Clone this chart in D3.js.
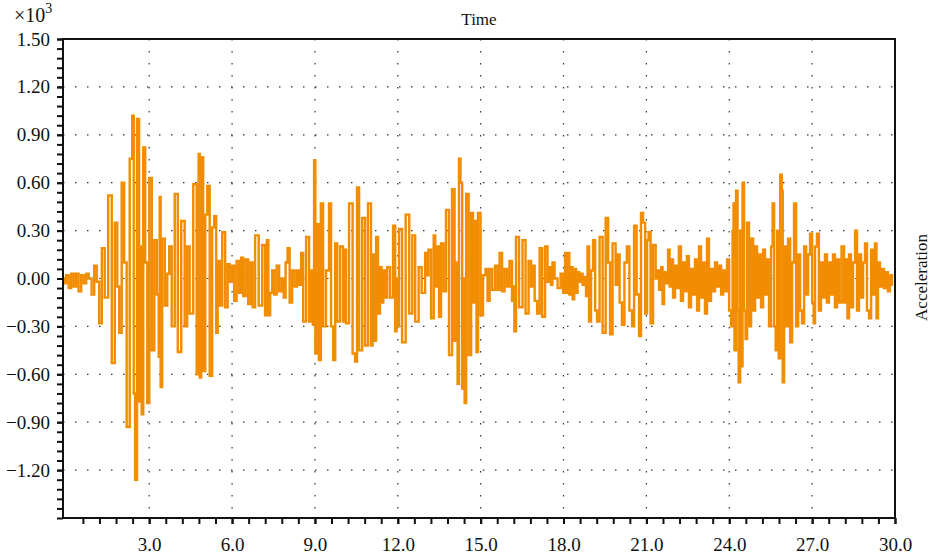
<!DOCTYPE html>
<html>
<head>
<meta charset="utf-8">
<script src="https://cdn.jsdelivr.net/npm/d3@7"></script>
<style>
  body { margin: 0; background: #fff; }
  text { font-family: "Liberation Serif", "DejaVu Serif", serif; fill: #111; }
</style>
</head>
<body>
<svg id="chart" width="930" height="556"></svg>
<script>
var times = [
  -0.11, -0.04, 0.03, 0.14, 0.21, 0.32, 0.39, 0.50, 0.58, 0.68, 0.76, 0.86, 0.97, 1.05,
  1.15, 1.23, 1.34, 1.44, 1.59, 1.70, 1.81, 1.88, 1.95, 2.06, 2.13, 2.24, 2.35, 2.42, 2.46, 2.52,
  2.60, 2.67, 2.71, 2.75, 2.82, 2.89, 2.97, 3.04, 3.15, 3.22, 3.33, 3.36, 3.40, 3.43, 3.51, 3.62,
  3.69, 3.76, 3.87, 3.98, 4.09, 4.23, 4.34, 4.41, 4.52, 4.67, 4.77, 4.81, 4.85, 4.92, 4.99, 5.07,
  5.14, 5.24, 5.32, 5.39, 5.46, 5.50, 5.61, 5.68, 5.82, 5.86, 5.97, 6.04, 6.11, 6.22, 6.29, 6.37,
  6.44, 6.55, 6.62, 6.73, 6.76, 6.91, 7.02, 7.16, 7.23, 7.29, 7.34, 7.42, 7.49, 7.56, 7.67, 7.74,
  7.85, 7.89, 7.99, 8.03, 8.14, 8.21, 8.32, 8.39, 8.46, 8.54, 8.61, 8.75, 8.83, 8.90, 8.95, 8.99,
  9.04, 9.12, 9.17, 9.26, 9.33, 9.47, 9.55, 9.62, 9.70, 9.77, 9.84, 9.98, 10.06, 10.09, 10.16,
  10.31, 10.42, 10.49, 10.56, 10.64, 10.78, 10.85, 10.99, 11.07, 11.10, 11.18, 11.25, 11.32,
  11.39, 11.44, 11.51, 11.58, 11.65, 11.79, 11.87, 11.94, 11.97, 12.01, 12.08, 12.23, 12.34,
  12.49, 12.56, 12.70, 12.81, 12.92, 13.06, 13.09, 13.13, 13.28, 13.32, 13.39, 13.46, 13.53,
  13.60, 13.71, 13.78, 13.93, 14.00, 14.11, 14.15, 14.18, 14.25, 14.29, 14.37, 14.40, 14.44,
  14.51, 14.62, 14.69, 14.76, 14.83, 14.87, 14.94, 15.05, 15.12, 15.23, 15.27, 15.38, 15.45,
  15.59, 15.63, 15.74, 15.81, 15.92, 15.99, 16.10, 16.17, 16.20, 16.24, 16.32, 16.46, 16.57,
  16.68, 16.79, 16.86, 16.90, 17.01, 17.08, 17.19, 17.26, 17.40, 17.44, 17.51, 17.58, 17.62,
  17.73, 17.84, 17.95, 18.02, 18.09, 18.13, 18.18, 18.24, 18.31, 18.35, 18.42, 18.49, 18.53,
  18.60, 18.67, 18.71, 18.78, 18.85, 18.89, 18.96, 19.03, 19.11, 19.18, 19.25, 19.36, 19.47,
  19.58, 19.65, 19.72, 19.83, 19.94, 19.98, 20.08, 20.15, 20.26, 20.33, 20.44, 20.52, 20.59,
  20.70, 20.77, 20.84, 20.92, 20.99, 21.06, 21.10, 21.20, 21.28, 21.39, 21.42, 21.50, 21.57,
  21.60, 21.68, 21.75, 21.82, 21.86, 21.93, 22.00, 22.07, 22.14, 22.21, 22.29, 22.36, 22.43,
  22.50, 22.58, 22.65, 22.72, 22.80, 22.87, 22.94, 23.01, 23.08, 23.16, 23.23, 23.30, 23.38,
  23.45, 23.52, 23.59, 23.67, 23.74, 23.81, 23.88, 23.96, 24.03, 24.10, 24.14, 24.17, 24.21,
  24.28, 24.32, 24.36, 24.43, 24.46, 24.50, 24.57, 24.61, 24.68, 24.75, 24.83, 24.90, 24.97,
  25.04, 25.11, 25.19, 25.26, 25.33, 25.40, 25.48, 25.55, 25.59, 25.66, 25.70, 25.77, 25.81,
  25.88, 25.92, 25.95, 26.02, 26.09, 26.17, 26.24, 26.31, 26.38, 26.46, 26.53, 26.60, 26.67,
  26.75, 26.82, 26.89, 26.96, 27.04, 27.07, 27.14, 27.21, 27.28, 27.36, 27.43, 27.50, 27.57,
  27.65, 27.72, 27.79, 27.86, 27.94, 28.01, 28.12, 28.19, 28.26, 28.30, 28.37, 28.44, 28.52,
  28.59, 28.66, 28.73, 28.81, 28.88, 28.95, 29.02, 29.10, 29.17, 29.24, 29.31, 29.35, 29.42,
  29.49, 29.56, 29.64, 29.71, 29.78, 29.85, 29.93
]
var accel = [
  0.00, -0.03, 0.02, -0.06, 0.03, -0.05, 0.03, -0.08, 0.02, -0.03, 0.03, 0.00, -0.10, 0.08,
  -0.02, -0.28, 0.19, -0.12, 0.52, -0.53, 0.35, -0.05, -0.34, 0.60, 0.10, -0.93, 0.75, 1.02, -0.72, -1.26,
  1.00, -0.77, 0.20, -0.85, 0.82, 0.10, -0.78, 0.63, -0.45, 0.24, -0.10, -0.49, 0.51, -0.68, 0.25, -0.17,
  0.03, 0.20, -0.30, 0.53, -0.46, 0.36, -0.30, 0.20, -0.22, 0.59, -0.60, 0.78, -0.62, 0.76, -0.58, 0.40,
  0.58, -0.61, 0.32, 0.39, -0.34, 0.11, -0.17, 0.29, -0.18, 0.09, -0.02, 0.08, -0.14, 0.11, -0.09, 0.13,
  -0.11, 0.12, -0.16, 0.10, -0.18, 0.27, -0.17, 0.21, -0.23, 0.24, -0.23, -0.09, 0.05, -0.10, 0.08, -0.08,
  0.00, -0.12, 0.10, 0.19, -0.15, 0.05, -0.05, 0.05, -0.04, 0.16, -0.27, 0.26, -0.27, 0.05, -0.29, 0.74,
  -0.47, 0.34, -0.51, 0.47, -0.30, 0.05, 0.47, -0.30, -0.51, 0.22, -0.27, 0.20, -0.27, 0.18, -0.28,
  0.47, -0.47, -0.52, 0.57, -0.45, 0.38, -0.42, 0.47, -0.42, 0.15, -0.39, 0.26, -0.22,
  0.07, -0.15, 0.05, -0.12, 0.07, -0.12, 0.33, -0.33, 0.00, -0.30, 0.31, -0.40, 0.40,
  -0.22, 0.27, -0.27, 0.07, -0.09, 0.16, 0.02, 0.18, -0.25, 0.27, -0.05, 0.20, -0.24,
  0.22, -0.08, 0.43, -0.48, 0.56, -0.39, 0.10, -0.66, 0.75, 0.60, -0.69, 0.00, -0.78,
  0.53, -0.48, 0.41, -0.15, 0.36, -0.46, 0.41, -0.23, 0.02, 0.06, -0.14, 0.06, -0.07,
  0.08, -0.07, 0.16, -0.08, 0.06, -0.05, 0.11, -0.14, -0.05, -0.33, 0.26, -0.18, 0.24,
  -0.22, 0.11, -0.05, 0.08, -0.14, -0.22, 0.19, -0.24, 0.20, -0.02, 0.07, -0.04, 0.10,
  0.00, -0.06, 0.03, -0.09, 0.16, -0.09, 0.16, -0.10, 0.07, -0.13, 0.06, -0.09, 0.04,
  -0.02, 0.03, -0.04, 0.01, -0.11, 0.20, -0.27, 0.05, 0.24, -0.20, -0.27, 0.26, -0.34,
  0.38, 0.10, -0.35, 0.22, -0.04, 0.15, -0.15, -0.29, 0.10, 0.20, -0.20, -0.30, 0.33,
  -0.10, -0.36, 0.41, 0.35, -0.22, 0.24, 0.29, -0.28, 0.21, 0.00, 0.05, -0.07, 0.07,
  -0.16, 0.04, -0.03, 0.18, -0.05, 0.12, -0.12, 0.08, -0.06, 0.20, -0.14, 0.10, -0.08,
  0.14, -0.18, 0.06, -0.10, 0.12, -0.20, 0.20, -0.12, 0.10, -0.22, 0.25, -0.14, 0.06,
  -0.08, 0.10, -0.05, 0.08, -0.10, 0.05, -0.08, 0.12, -0.20, -0.30, 0.30, 0.47, -0.45,
  0.55, -0.20, -0.65, 0.30, -0.55, 0.60, -0.20, -0.38, 0.35, -0.30, 0.25, -0.20, 0.20,
  -0.12, 0.15, -0.18, 0.18, -0.10, 0.12, -0.30, 0.20, 0.47, -0.30, -0.45, 0.30, -0.50,
  0.65, 0.55, -0.65, 0.20, -0.30, 0.25, -0.40, 0.10, 0.47, -0.30, 0.15, -0.20, -0.28,
  0.20, -0.10, 0.15, 0.28, -0.15, -0.28, 0.20, 0.28, -0.20, 0.10, -0.12, 0.15, -0.15,
  0.10, -0.10, 0.15, -0.18, 0.12, -0.15, 0.20, -0.15, 0.12, -0.25, 0.15, -0.18, 0.10,
  0.30, -0.20, 0.15, -0.12, 0.10, 0.22, -0.20, -0.25, 0.18, -0.10, 0.22, -0.25, 0.10,
  -0.05, 0.06, -0.06, 0.04, -0.08, 0.02, -0.04
]
var xTickVals = [3, 6, 9, 12, 15, 18, 21, 24, 27, 30]
var yTickVals = [-1.2, -0.9, -0.6, -0.3, 0, 0.3, 0.6, 0.9, 1.2, 1.5]

var plotL = 63, plotR = 895, plotT = 39, plotB = 518
var fontSize = '17px', tickFont = '19px'

var svg = d3.select('#chart')

var x = d3.scaleLinear().domain([-0.12, 30]).range([plotL, plotR])
var y = d3.scaleLinear().domain([-1.5, 1.5]).range([plotB, plotT])

var fmt = function(d) {
    return (d < 0 ? '\u2212' : '') + Math.abs(d).toFixed(2)
}

// grid
var grid = svg.append('g').attr('class', 'grid')
grid.selectAll('.vg')
    .data(xTickVals.filter(d => d < 30))
    .enter().append('line')
    .attr('x1', d => x(d)).attr('x2', d => x(d))
    .attr('y1', plotT).attr('y2', plotB)
    .attr('stroke', '#333').attr('stroke-width', 1.2)
    .attr('stroke-dasharray', '1.5 10.5')
grid.selectAll('.hg')
    .data(yTickVals.filter(d => d < 1.5))
    .enter().append('line')
    .attr('x1', plotL).attr('x2', plotR)
    .attr('y1', d => y(d)).attr('y2', d => y(d))
    .attr('stroke', '#333').attr('stroke-width', 1.2)
    .attr('stroke-dasharray', '1.5 10.5')

// signal, drawn as held samples so the strokes come out upright
var pts = times.map((t, i) => [t, accel[i]])
var line = d3.line()
    .curve(d3.curveStep)
    .x(d => x(d[0]))
    .y(d => y(d[1]))

svg.append('path')
    .datum(pts)
    .attr('fill', 'none')
    .attr('stroke', '#F28C00')
    .attr('stroke-width', 2.4)
    .attr('stroke-linejoin', 'miter')
    .attr('d', line)

// axes
var xMinor = d3.range(0.6, 30.01, 0.6)
var yMinor = d3.range(-1.5, 1.501, 0.06)

var xAxis = svg.append('g')
    .attr('transform', 'translate(0,' + plotB + ')')
    .call(d3.axisBottom(x).tickValues(xMinor).tickSize(6).tickFormat(''))
xAxis.select('.domain').remove()
xAxis.selectAll('line').attr('stroke', '#111').attr('stroke-width', 2)

var xLab = svg.append('g')
    .attr('transform', 'translate(0,' + plotB + ')')
    .call(d3.axisBottom(x).tickValues(xTickVals).tickSize(6).tickPadding(14).tickFormat(d => d.toFixed(1)))
xLab.select('.domain').remove()
xLab.selectAll('line').attr('stroke', '#111').attr('stroke-width', 2)
xLab.selectAll('text').style('font-size', tickFont).attr('fill', '#111')
    .style('font-family', '"Liberation Serif", serif')

var yAxis = svg.append('g')
    .attr('transform', 'translate(' + plotL + ',0)')
    .call(d3.axisLeft(y).tickValues(yMinor).tickSize(6).tickFormat(''))
yAxis.select('.domain').remove()
yAxis.selectAll('line').attr('stroke', '#111').attr('stroke-width', 2)

var yLab = svg.append('g')
    .attr('transform', 'translate(' + plotL + ',0)')
    .call(d3.axisLeft(y).tickValues(yTickVals).tickSize(6).tickPadding(7).tickFormat(fmt))
yLab.select('.domain').remove()
yLab.selectAll('line').attr('stroke', '#111').attr('stroke-width', 2)
yLab.selectAll('text').style('font-size', tickFont).attr('fill', '#111')
    .style('font-family', '"Liberation Serif", serif')

// frame
svg.append('rect')
    .attr('x', plotL).attr('y', plotT)
    .attr('width', plotR - plotL).attr('height', plotB - plotT)
    .attr('fill', 'none')
    .attr('stroke', '#111')
    .attr('stroke-width', 2)

// labels
svg.append('text')
    .attr('x', (plotL + plotR) / 2).attr('y', 25)
    .attr('text-anchor', 'middle')
    .style('font-size', fontSize)
    .text('Time')

svg.append('text')
    .attr('transform', 'translate(927,' + ((plotT + plotB) / 2 - 1) + ') rotate(-90)')
    .attr('text-anchor', 'middle')
    .style('font-size', fontSize)
    .text('Acceleration')

var mult = svg.append('text')
    .attr('x', 14).attr('y', 22)
    .style('font-size', '20px')
mult.append('tspan').text('\u00d710')
mult.append('tspan').attr('dy', -9).style('font-size', '14px').text('3')
</script>
</body>
</html>
